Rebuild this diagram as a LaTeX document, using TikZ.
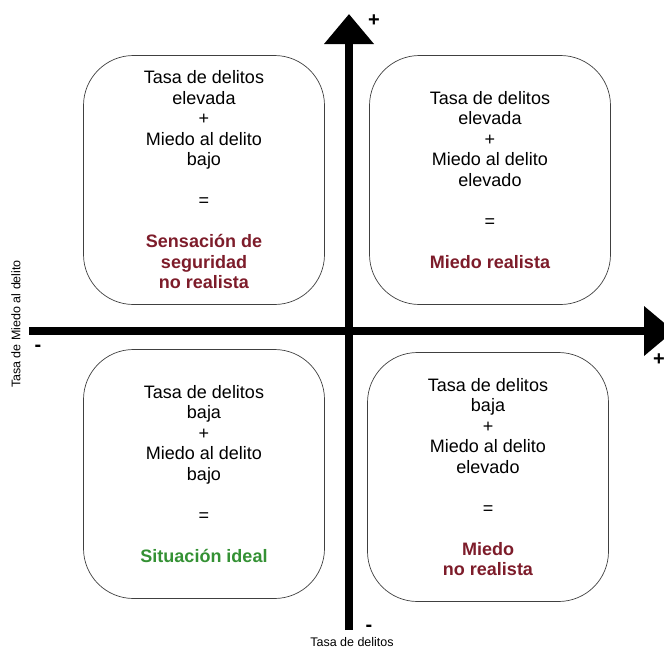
\documentclass[tikz,border=0pt]{standalone}
\usepackage{fontspec}
\setmainfont{Liberation Sans}
\usetikzlibrary{arrows.meta}
\definecolor{rojo}{RGB}{125,28,42}
\definecolor{verde}{RGB}{52,145,52}

\begin{document}
\begin{tikzpicture}[x=1pt,y=-1pt,>={Triangle[length=30pt,width=48pt]},
  achse/.style={line width=8pt},
  feld/.style={draw=black!75,line width=.7pt,rounded corners=50pt,minimum width=241pt,
    minimum height=249pt,align=center,font=\fontsize{18}{20.5}\selectfont},
  klein/.style={font=\fontsize{12.5}{14}\selectfont,inner sep=1pt},
  zeichen/.style={font=\fontsize{20}{20}\selectfont\bfseries,inner sep=0pt}]
  \useasboundingbox (0,0) rectangle (664,648);
  % Achsen
  \coordinate (xa) at (29,331);
  \coordinate (xe) at (674,331);
  \coordinate (ya) at (349,630);
  \coordinate (ye) at (349,14);
  \draw[achse,->] (xa)--(xe);
  \draw[achse,->] (ya)--(ye);
  \node[zeichen] (yplus) at (374,21) {+};
  \node[zeichen] (yminus) at (369,628) {-};
  \node[zeichen] (xplus) at (659,360) {+};
  \node[zeichen] (xminus) at (38,348) {-};
  \node[klein] (xlabel) at (352,642) {Tasa de delitos};
  \node[klein,rotate=90] (ylabel) at (16,324) {Tasa de Miedo al delito};
  % Felder
  \node[feld] (lo) at (204,180) {Tasa de delitos\\elevada\\+\\Miedo al delito\\bajo\\[20.5pt]=\\[20.5pt]
    \color{rojo}\bfseries Sensación de\\\color{rojo}\bfseries seguridad\\\color{rojo}\bfseries no realista};
  \node[feld] (ro) at (490,180) {Tasa de delitos\\elevada\\+\\Miedo al delito\\elevado\\[20.5pt]=\\[20.5pt]
    \color{rojo}\bfseries Miedo realista};
  \node[feld] (lu) at (204,474) {Tasa de delitos\\baja\\+\\Miedo al delito\\bajo\\[20.5pt]=\\[20.5pt]
    \color{verde}\bfseries Situación ideal};
  \node[feld] (ru) at (488,477) {Tasa de delitos\\baja\\+\\Miedo al delito\\elevado\\[20.5pt]=\\[20.5pt]
    \color{rojo}\bfseries Miedo\\\color{rojo}\bfseries no realista};
\end{tikzpicture}
\end{document}
